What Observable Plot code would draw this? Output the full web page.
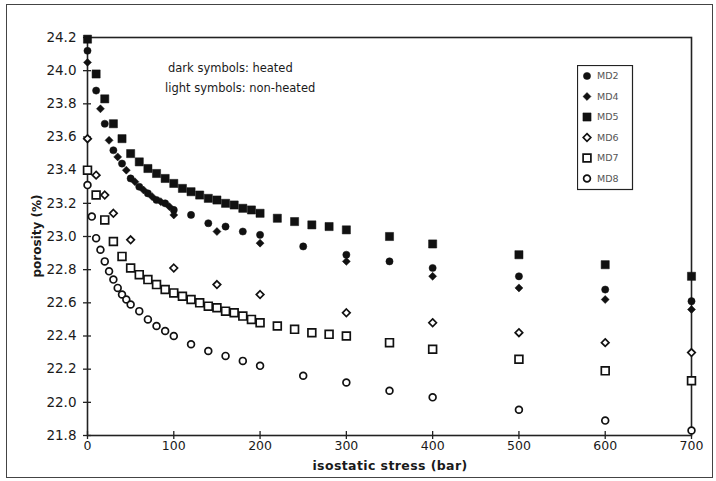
<!DOCTYPE html>
<html><head><meta charset="utf-8">
<script src="https://cdn.jsdelivr.net/npm/d3@7"></script>
<script src="https://cdn.jsdelivr.net/npm/@observablehq/plot@0.6"></script>
<style>
body{margin:0;background:#fff;font-family:"DejaVu Sans",sans-serif;color:#1a1a1a;}
#wrap{position:relative;width:716px;height:481px;overflow:hidden;}
#border{position:absolute;left:6px;top:4px;width:707px;height:474px;border:1px solid #444;box-sizing:border-box;}
.note{position:absolute;font-size:11.5px;white-space:nowrap;}
#ylab{position:absolute;left:37px;top:236px;transform:translate(-50%,-50%) rotate(-90deg);font-size:12px;font-weight:bold;white-space:nowrap;}
#xlab{position:absolute;left:390px;top:465px;transform:translate(-50%,-50%);font-size:12.5px;font-weight:bold;letter-spacing:0.4px;white-space:nowrap;}
#legend{position:absolute;left:577px;top:65px;}
</style></head><body>
<div id="wrap"><div id="border"></div></div>
<script>
// ---- data ----
const xTicks = [0,100,200,300,400,500,600,700];
const yTicks = [21.8,22.0,22.2,22.4,22.6,22.8,23.0,23.2,23.4,23.6,23.8,24.0,24.2];

const md2Stress = [0,10,20,30,40,50,60,70,80,90,100,120,140,160,180,200,250,300,350,400,500,600,700];
const md2Porosity = [24.12,23.88,23.68,23.52,23.44,23.35,23.30,23.26,23.22,23.20,23.16,23.13,23.08,23.06,23.03,23.01,22.94,22.89,22.85,22.81,22.76,22.68,22.61];

const md4Stress = [0,15,25,35,45,55,65,75,85,95,100,150,200,300,400,500,600,700];
const md4Porosity = [24.05,23.77,23.58,23.48,23.40,23.33,23.28,23.24,23.21,23.18,23.13,23.03,22.96,22.85,22.76,22.69,22.62,22.56];

const md5Stress = [0,10,20,30,40,50,60,70,80,90,100,110,120,130,140,150,160,170,180,190,200,220,240,260,280,300,350,400,500,600,700];
const md5Porosity = [24.19,23.98,23.83,23.68,23.59,23.50,23.45,23.41,23.38,23.35,23.32,23.29,23.27,23.25,23.23,23.22,23.20,23.19,23.17,23.16,23.14,23.11,23.09,23.07,23.06,23.04,23.00,22.955,22.89,22.83,22.76];

const md6Stress = [0,10,20,30,50,100,150,200,300,400,500,600,700];
const md6Porosity = [23.59,23.37,23.25,23.14,22.98,22.81,22.71,22.65,22.54,22.48,22.42,22.36,22.30];

const md7Stress = [0,10,20,30,40,50,60,70,80,90,100,110,120,130,140,150,160,170,180,190,200,220,240,260,280,300,350,400,500,600,700];
const md7Porosity = [23.40,23.25,23.10,22.97,22.88,22.81,22.77,22.74,22.71,22.68,22.66,22.64,22.62,22.60,22.58,22.57,22.55,22.54,22.52,22.50,22.48,22.46,22.44,22.42,22.41,22.40,22.36,22.32,22.26,22.19,22.13];

const md8Stress = [0,5,10,15,20,25,30,35,40,45,50,60,70,80,90,100,120,140,160,180,200,250,300,350,400,500,600,700];
const md8Porosity = [23.31,23.12,22.99,22.92,22.85,22.79,22.74,22.69,22.65,22.62,22.59,22.55,22.50,22.46,22.43,22.40,22.35,22.31,22.28,22.25,22.22,22.16,22.12,22.07,22.03,21.955,21.89,21.83];

const seriesNames = ["MD2","MD4","MD5","MD6","MD7","MD8"];
const seriesSymbols = ["circle","diamond2","square","diamond2","square","circle"];
const seriesFilled = [true,true,true,false,false,false];
const seriesR = [3.6,3.6,4.6,3.4,4.4,3.4];
const noteLines = ["dark symbols: heated","light symbols: non-heated"];

// ---- build ----
const stresses = [md2Stress,md4Stress,md5Stress,md6Stress,md7Stress,md8Stress];
const porosities = [md2Porosity,md4Porosity,md5Porosity,md6Porosity,md7Porosity,md8Porosity];
const rows = [];
seriesNames.forEach((name,i)=>{
  stresses[i].forEach((s,j)=>rows.push({series:name, stress:s, porosity:porosities[i][j]}));
});

const dotMarks = seriesNames.map((name,i)=>Plot.dot(rows.filter(d=>d.series===name),{
  x:"stress", y:"porosity", symbol: seriesSymbols[i], r: seriesR[i],
  fill: seriesFilled[i] ? "#111" : "white",
  stroke: "#111", strokeWidth: seriesFilled[i] ? 0.5 : 1.7
}));

const chart = Plot.plot({
  width: 716, height: 481,
  marginLeft: 87, marginRight: 25, marginTop: 37, marginBottom: 46,
  x: {domain:[0,700]},
  y: {domain:[21.8,24.2]},
  style: {fontFamily:"DejaVu Sans, sans-serif", fontSize:"13.5px", color:"#1a1a1a", background:"transparent", overflow:"visible"},
  marks: [
    Plot.frame({stroke:"#222", strokeWidth:1.6}),
    Plot.axisX({ticks:xTicks, tickSize:4, tickPadding:2, fontSize:12.5, label:null, tickFormat:d3.format("d"), stroke:"#222", strokeWidth:1.3}),
    Plot.axisX({ticks:xTicks, tickSize:-4, tickFormat:()=>"", label:null, stroke:"#222", strokeWidth:1.3}),
    Plot.axisY({ticks:yTicks, tickSize:4, tickPadding:7, label:null, tickFormat:d3.format(".1f"), stroke:"#222", strokeWidth:1.3}),
    Plot.axisY({ticks:yTicks, tickSize:-4, tickFormat:()=>"", label:null, stroke:"#222", strokeWidth:1.3}),
    ...dotMarks
  ]
});
chart.style.position = "absolute";
chart.style.left = "0px";
chart.style.top = "0px";
const wrap = document.getElementById("wrap");
wrap.appendChild(chart);

// axis titles
const yl = document.createElement("div"); yl.id="ylab"; yl.textContent="porosity (%)"; wrap.appendChild(yl);
const xl = document.createElement("div"); xl.id="xlab"; xl.textContent="isostatic stress (bar)"; wrap.appendChild(xl);

// annotation
noteLines.forEach((t,i)=>{
  const n = document.createElement("div"); n.className="note"; n.textContent=t;
  n.style.left = (i===0?168:165)+"px"; n.style.top = (61+i*20)+"px";
  wrap.appendChild(n);
});

// legend
const lg = d3.select(wrap).append("svg").attr("id","legend").attr("width",57).attr("height",127);
lg.append("rect").attr("x",0.5).attr("y",0.5).attr("width",55).attr("height",124).attr("fill","white").attr("stroke","#222").attr("stroke-width",1.2);
const symMap = {circle:d3.symbolCircle, diamond2:d3.symbolDiamond2, square:d3.symbolSquare};
seriesNames.forEach((name,i)=>{
  const cy = 11 + i*20.5;
  const r = seriesR[i];
  lg.append("path").attr("transform",`translate(10,${cy})`)
    .attr("d", d3.symbol(symMap[seriesSymbols[i]], Math.PI*r*r)())
    .attr("fill", seriesFilled[i] ? "#111" : "white").attr("stroke","#111").attr("stroke-width", seriesFilled[i]?0.5:1.7);
  lg.append("text").attr("x",20).attr("y",cy).attr("dy","0.35em").attr("font-size","9.5px").attr("fill","#555").attr("font-family","DejaVu Sans, sans-serif").text(name);
});
</script>
</body></html>
